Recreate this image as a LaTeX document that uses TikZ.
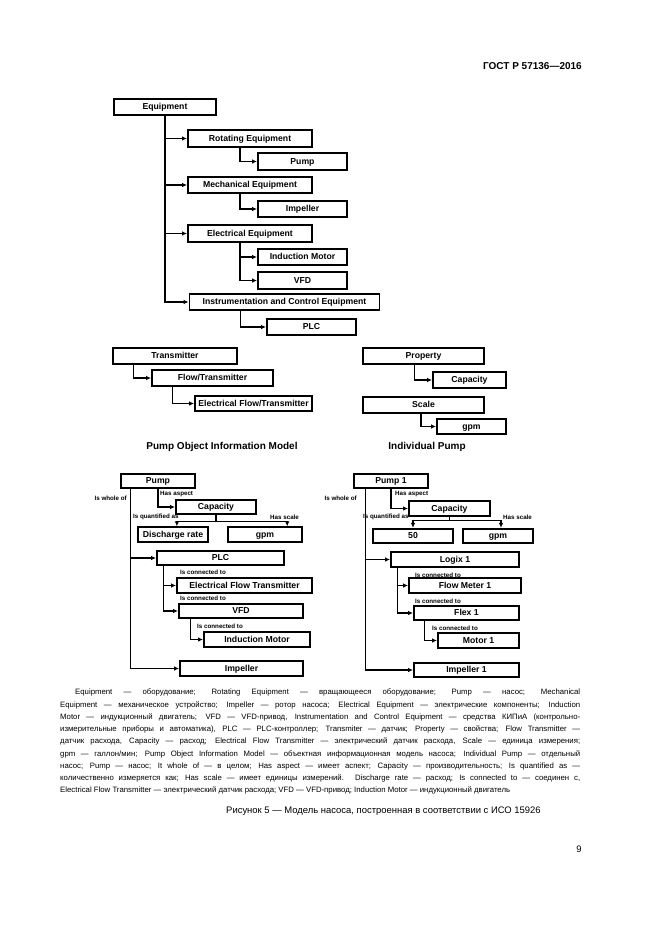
\documentclass[tikz,border=0pt]{standalone}
\usepackage{fontspec}
\setmainfont{Liberation Sans}
\usetikzlibrary{arrows.meta}

\begin{document}
\begin{tikzpicture}[x=0.9pt, y=-0.9pt,
    box/.style={draw, line width=1.6pt, inner sep=0pt,
      minimum height=15pt, align=center, text height=5.6pt, text depth=0.4pt,
      font=\bfseries\fontsize{7.8}{9}\selectfont},
    obj/.style={box, minimum height=13pt},
    rel/.style={inner sep=0pt, font=\bfseries\fontsize{5.6}{6}\selectfont},
    ttl/.style={inner sep=0pt, font=\bfseries\fontsize{9}{10}\selectfont},
    arr/.style={-{Latex[length=4.5pt,width=4pt]}, line width=1pt}]
  \useasboundingbox[fill=white] (0,0) rectangle (661,935);
  \node[ttl, anchor=east] (gost) at (582,66) {ГОСТ Р 57136—2016};
  % === Equipment tree ===
  \node[box, minimum width=91.8pt]  (equip) at (165,107)   {Equipment};
  \node[box, minimum width=111.6pt] (rot)   at (250,138.5) {Rotating Equipment};
  \node[box, minimum width=80.1pt]  (pump)  at (302.5,161.5) {Pump};
  \node[box, minimum width=111.6pt] (mech)  at (250,185)   {Mechanical Equipment};
  \node[box, minimum width=80.1pt]  (imp)   at (302.5,209) {Impeller};
  \node[box, minimum width=111.6pt] (elec)  at (250,233.5) {Electrical Equipment};
  \node[box, minimum width=80.1pt]  (indm)  at (302.5,257) {Induction Motor};
  \node[box, minimum width=80.1pt]  (vfd)   at (302.5,280.5) {VFD};
  \node[box, minimum width=171pt]   (instr) at (284.5,302) {Instrumentation and Control Equipment};
  \node[box, minimum width=80.1pt]  (plc)   at (311.5,327) {PLC};
  \draw[arr] (equip.south) |- (rot);
  \draw[arr] (equip.south) |- (mech);
  \draw[arr] (equip.south) |- (elec);
  \draw[arr] (equip.south) |- (instr);
  \draw[arr] ([xshift=-9pt]rot.south)  |- (pump);
  \draw[arr] ([xshift=-9pt]mech.south) |- (imp);
  \draw[arr] ([xshift=-9pt]elec.south) |- (indm);
  \draw[arr] ([xshift=-9pt]elec.south) |- (vfd);
  \draw[arr] ([xshift=-40pt]instr.south) |- (plc);
  % === Transmitter / Property / Scale ===
  \node[box, minimum width=111.6pt, minimum height=14.4pt] (trans)  at (175,356)   {Transmitter};
  \node[box, minimum width=108.9pt, minimum height=14.4pt] (flowt)  at (212.5,378) {Flow/Transmitter};
  \node[box, minimum width=105.3pt, minimum height=14pt]   (eflowt) at (253.5,403.5) {Electrical Flow/Transmitter};
  \node[box, minimum width=108.9pt, minimum height=14.4pt] (prop)   at (423.5,356) {Property};
  \node[box, minimum width=65.7pt,  minimum height=14.4pt] (cap)    at (469.5,380) {Capacity};
  \node[box, minimum width=108.9pt, minimum height=14.4pt] (scale)  at (423.5,405) {Scale};
  \node[box, minimum width=62.1pt,  minimum height=14pt]   (gpm)    at (471.5,426.5) {gpm};
  \draw[arr] ([xshift=19pt]trans.south west) |- (flowt);
  \draw[arr] ([xshift=19pt]flowt.south west) |- (eflowt);
  \draw[arr] ([xshift=47pt]prop.south west)  |- (cap);
  \draw[arr] ([xshift=53pt]scale.south west) |- (gpm);
  \node[ttl] (tmodel) at (222,447) {Pump Object Information Model};
  \node[ttl] (tindiv) at (427,447) {Individual Pump};
  % === Pump object information model ===
  \node[obj, minimum width=66.6pt]  (pumpL) at (158,481)   {Pump};
  \node[obj, minimum width=72pt]    (capL)  at (216,507)   {Capacity};
  \node[obj, minimum width=63pt]    (drate) at (173,534.5) {Discharge rate};
  \node[obj, minimum width=66.6pt]  (gpmL)  at (265,534.5) {gpm};
  \node[obj, minimum width=114.3pt] (plcL)  at (220.5,558) {PLC};
  \node[obj, minimum width=121.5pt] (eft)   at (244.5,585.5) {Electrical Flow Transmitter};
  \node[obj, minimum width=111.6pt] (vfdL)  at (241,611)   {VFD};
  \node[obj, minimum width=95.4pt]  (indmL) at (257,639.5) {Induction Motor};
  \node[obj, minimum width=110.7pt] (impL)  at (241.5,668.5) {Impeller};
  \draw[arr] ([xshift=9pt]pumpL.south west) |- (plcL);
  \draw[arr] ([xshift=9pt]pumpL.south west) |- (impL);
  \draw[arr] (pumpL.south) |- (capL);
  \draw[arr] (capL.south) -- ++(0,6) -| ([xshift=3.5pt]drate.north);
  \draw[arr] (capL.south) -- ++(0,6) -| ([xshift=20pt]gpmL.north);
  \draw[arr] ([xshift=7pt]plcL.south west) |- (eft);
  \draw[arr] ([xshift=7pt]plcL.south west) |- (vfdL);
  \draw[arr] ([xshift=11pt]vfdL.south west) |- (indmL);
  \node[rel, anchor=east] (wholeL)  at (127,498) {Is whole of};
  \node[rel, anchor=west] (aspL)    at (160,494) {Has aspect};
  \node[rel, anchor=west] (quantL)  at (133,517) {Is quantified as};
  \node[rel, anchor=west] (scaleL)  at (270,517) {Has scale};
  \node[rel, anchor=west] (connLa)  at (180,572) {Is connected to};
  \node[rel, anchor=west] (connLb)  at (180,598) {Is connected to};
  \node[rel, anchor=west] (connLc)  at (197,626) {Is connected to};
  % === Individual pump ===
  \node[obj, minimum width=66.6pt]  (pump1) at (391,481)   {Pump 1};
  \node[obj, minimum width=72.9pt]  (cap1)  at (449.5,508.5) {Capacity};
  \node[obj, minimum width=72pt]    (fifty) at (413,536)   {50};
  \node[obj, minimum width=63pt]    (gpm1)  at (498,536)   {gpm};
  \node[obj, minimum width=115.2pt] (logix) at (455,559.5) {Logix 1};
  \node[obj, minimum width=100.8pt] (fm1)   at (465,585.5) {Flow Meter 1};
  \node[obj, minimum width=94.5pt]  (flex)  at (466.5,613) {Flex 1};
  \node[obj, minimum width=72.9pt]  (motor) at (478.5,640.5) {Motor 1};
  \node[obj, minimum width=94.5pt]  (imp1)  at (466.5,670) {Impeller 1};
  \draw[arr] ([xshift=11pt]pump1.south west) |- (logix);
  \draw[arr] ([xshift=11pt]pump1.south west) |- (imp1);
  \draw[arr] (pump1.south) |- (cap1);
  \draw[arr] (cap1.south) -- ++(0,4) -| (fifty.north);
  \draw[arr] (cap1.south) -- ++(0,4) -| ([xshift=2.7pt]gpm1.north);
  \draw[arr] ([xshift=6.3pt]logix.south west) |- (fm1);
  \draw[arr] ([xshift=6.3pt]logix.south west) |- (flex);
  \draw[arr] ([xshift=10pt]flex.south west) |- (motor);
  \node[rel, anchor=east] (whole1)  at (357,498) {Is whole of};
  \node[rel, anchor=west] (asp1)    at (395,494) {Has aspect};
  \node[rel, anchor=west] (quant1)  at (363,517) {Is quantified as};
  \node[rel, anchor=west] (scale1)  at (503,517) {Has scale};
  \node[rel, anchor=west] (conn1a)  at (415,575) {Is connected to};
  \node[rel, anchor=west] (conn1b)  at (415,601) {Is connected to};
  \node[rel, anchor=west] (conn1c)  at (432,628) {Is connected to};
  % === Legend and caption ===
  \node[anchor=north west, inner sep=0pt, align=left,
        font=\fontsize{7}{11}\selectfont] (legend) at (60,689) {%
    \hspace*{13.5pt}\makebox[454.5pt][s]{Equipment — оборудование; Rotating Equipment — вращающееся оборудование; Pump — насос; Mechanical}\\
    \makebox[468pt][s]{Equipment — механическое устройство; Impeller — ротор насоса; Electrical Equipment — электрические компоненты; Induction}\\
    \makebox[468pt][s]{Motor — индукционный двигатель; VFD — VFD-привод, Instrumentation and Control Equipment — средства КИПиА (контрольно-}\\
    \makebox[468pt][s]{измерительные приборы и автоматика), PLC — PLC-контроллер; Transmiter — датчик; Property — свойства; Flow Transmitter —}\\
    \makebox[468pt][s]{датчик расхода, Capacity — расход; Electrical Flow Transmitter — электрический датчик расхода, Scale — единица измерения;}\\
    \makebox[468pt][s]{gpm — галлон/мин; Pump Object Information Model — объектная информационная модель насоса; Individual Pump — отдельный}\\
    \makebox[468pt][s]{насос; Pump — насос; It whole of — в целом; Has aspect — имеет аспект; Capacity — производительность; Is quantified as —}\\
    \makebox[468pt][s]{количественно измеряется как; Has scale — имеет единицы измерений. Discharge rate — расход; Is connected to — соединен с,}\\
    Electrical Flow Transmitter — электрический датчик расхода; VFD — VFD-привод; Induction Motor — индукционный двигатель};
  \node[anchor=west, inner sep=0pt, font=\fontsize{8.5}{10}\selectfont] (fig) at (226,811)
    {Рисунок 5 — Модель насоса, построенная в соответствии с ИСО 15926};
  \node[inner sep=0pt, font=\fontsize{8.5}{10}\selectfont] (page) at (579,849) {9};
\end{tikzpicture}
\end{document}
